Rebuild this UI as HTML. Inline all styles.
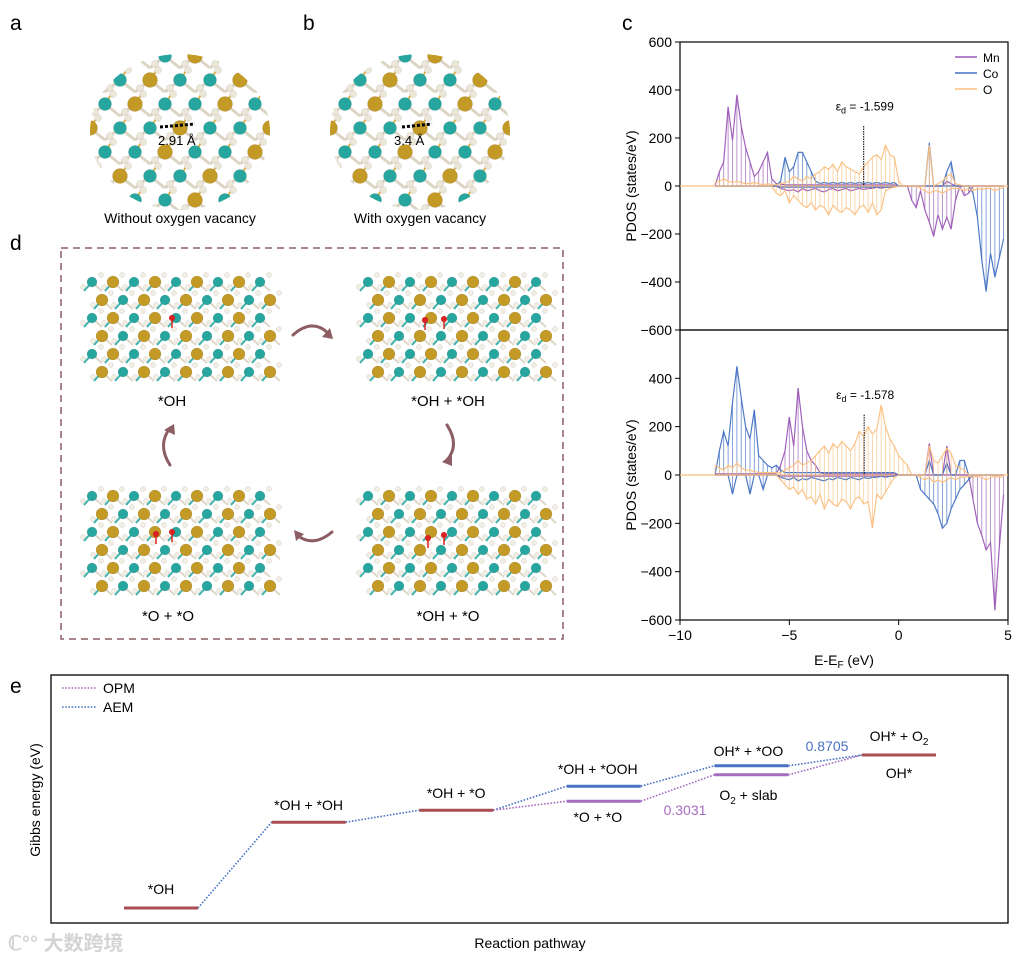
<!DOCTYPE html>
<html><head><meta charset="utf-8">
<style>
html,body{margin:0;padding:0;background:#fff;}
svg{display:block;font-family:"Liberation Sans","Noto Sans CJK SC",sans-serif;}
</style></head>
<body>
<svg id="fig" width="1023" height="963" viewBox="0 0 1023 963">
<defs>
<clipPath id="clipA"><ellipse cx="180" cy="132" rx="90" ry="78"/></clipPath>
<clipPath id="clipB"><ellipse cx="420" cy="132" rx="90" ry="78"/></clipPath>
</defs>
<text x="10" y="30" font-size="21">a</text>
<text x="303" y="30" font-size="21">b</text>
<text x="622" y="30" font-size="21">c</text>
<text x="10" y="250" font-size="21">d</text>
<text x="10" y="693" font-size="21">e</text>

<g id="structA" clip-path="url(#clipA)"></g>
<g id="structB" clip-path="url(#clipB)"></g>
<line x1="160" y1="127" x2="195" y2="124" stroke="#000" stroke-width="3" stroke-dasharray="3,2"/>
<text x="158" y="145" font-size="13">2.91 Å</text>
<line x1="402" y1="127" x2="432" y2="124" stroke="#000" stroke-width="3" stroke-dasharray="3,2"/>
<text x="394" y="145" font-size="13">3.4 Å</text>
<text x="180" y="223" font-size="14" text-anchor="middle">Without oxygen vacancy</text>
<text x="420" y="223" font-size="14" text-anchor="middle">With oxygen vacancy</text>

<rect x="61" y="248" width="502" height="391" fill="none" stroke="#8c5e64" stroke-width="1.5" stroke-dasharray="7,5"/>
<g id="slabs"></g>
<text x="172" y="406" font-size="15" text-anchor="middle">*OH</text>
<text x="448" y="406" font-size="15" text-anchor="middle">*OH + *OH</text>
<text x="168" y="621" font-size="15" text-anchor="middle">*O + *O</text>
<text x="448" y="621" font-size="15" text-anchor="middle">*OH + *O</text>
<g fill="none" stroke="#8c5e64" stroke-width="3" stroke-linecap="round">
<path d="M293,335 Q312,318 328,333"/>
<path d="M447,425 Q460,445 447,460"/>
<path d="M332,532 Q313,548 297,535"/>
<path d="M170,465 Q157,445 170,428"/>
</g>
<g fill="#8c5e64">
<polygon points="330,328 322,337 333,339"/>
<polygon points="442,462 452,454 452,466"/>
<polygon points="294,530 296,541 304,534"/>
<polygon points="174,424 164,430 175,435"/>
</g>

<g id="pdos"></g>
<g id="gibbs"></g>

<text x="8" y="950" font-size="20" fill="#d4d4d4" font-weight="bold">ℂ°° 大数跨境</text>
</svg>
<script>
const pdosEStart = -8.4;
const pdosEStep = 0.2;
const topMnUp = [0,60,100,330,190,380,250,160,100,40,60,100,140,30,10,8,5,5,5,5,5,5,5,5,5,5,5,5,5,5,5,5,5,5,5,5,5,5,5,5,5,5,0,0,0,0,0,0,0,0,0,0,0,20,10,0,0,0,0,0,0,0,0,0,0,0,0];
const topMnDown = [0,0,0,0,0,0,0,0,0,0,0,0,0,0,0,-10,-15,-20,-15,-25,-10,-20,-15,-10,-20,-25,-15,-10,-20,-15,-10,-20,-15,-10,-15,-10,-10,-5,-10,-5,-5,-5,0,0,0,-60,-90,-20,-100,-150,-210,-120,-180,-130,-180,-60,0,-40,-30,0,0,0,0,0,0,0,0];
const topCoUp = [0,0,0,0,0,0,0,0,0,0,0,0,0,0,0,20,120,60,80,140,140,100,60,20,10,15,10,15,10,15,10,15,10,15,10,15,10,15,10,15,10,15,0,0,0,0,0,0,0,180,0,0,0,60,100,0,0,0,0,0,0,0,0,0,0,0,0];
const topCoDown = [0,0,0,0,0,0,0,0,0,0,0,0,0,0,0,-5,-5,-5,-5,-5,-5,-5,-5,-5,-5,-5,-5,-5,-5,-5,-5,-5,-5,-5,-5,-5,-5,-5,-5,-5,-5,-5,0,0,0,0,0,0,0,0,0,0,0,0,0,0,0,0,0,-30,-130,-310,-440,-280,-380,-300,-220];
const topOUp = [15,20,30,20,15,20,15,10,10,15,10,5,10,5,5,10,15,20,40,30,20,40,30,50,60,80,70,90,60,100,80,70,60,50,80,100,120,130,110,170,130,120,20,0,0,0,0,0,0,170,0,10,20,40,50,10,5,0,0,0,0,0,0,0,0,0,0];
const topODown = [0,0,0,0,0,0,0,0,0,0,0,0,0,0,-30,-40,-20,-70,-40,-60,-80,-90,-70,-100,-80,-90,-120,-80,-100,-110,-90,-100,-120,-90,-80,-110,-70,-120,-100,-20,-10,-5,0,0,0,0,0,-10,-20,-30,-20,-20,-30,-20,-10,-10,-10,-20,-10,-20,-10,-15,-10,-10,-20,-10,-10];
const botCoUp = [0,100,180,120,300,450,320,200,150,270,80,60,40,30,40,20,10,10,10,10,10,10,10,10,10,10,10,10,10,10,10,10,10,10,10,10,10,10,10,10,10,10,0,0,0,0,0,0,0,60,0,0,0,50,0,0,60,60,0,0,0,0,0,0,0,0,0];
const botCoDown = [0,0,0,0,-80,0,0,0,-80,0,0,-60,0,0,0,-10,-15,-20,-10,-25,-15,-20,-10,-15,-20,-25,-15,-20,-10,-15,-20,-10,-15,-20,-10,-15,-10,-10,-5,-10,-5,-5,0,0,0,0,0,-60,-80,-100,-120,-160,-220,-200,-140,-100,-60,-40,-20,0,0,0,0,0,0,0,0];
const botMnUp = [5,5,5,5,5,5,5,5,5,5,5,5,5,5,5,40,100,240,120,360,200,100,60,40,10,5,5,5,5,5,5,5,5,5,5,5,5,5,5,5,5,5,0,0,0,0,0,0,0,130,0,0,0,120,0,0,0,0,0,0,0,0,0,0,0,0,0];
const botMnDown = [0,0,0,0,0,0,0,0,0,0,0,0,0,0,0,-5,-5,-5,-5,-5,-5,-5,-5,-5,-5,-5,-5,-5,-5,-5,-5,-5,-5,-5,-5,-5,-5,-5,-5,-5,-5,-5,0,0,0,0,0,0,0,0,0,0,0,0,0,0,0,0,0,-100,-200,-250,-310,-280,-560,-300,-80];
const botOUp = [40,30,20,40,30,50,30,20,20,15,10,10,10,10,10,10,20,30,40,60,40,50,60,80,100,120,90,130,110,140,120,100,130,180,160,200,170,190,290,200,150,120,80,60,40,0,0,0,0,120,60,50,80,110,90,40,30,20,0,0,0,0,0,0,0,0,0];
const botODown = [0,0,0,0,0,0,0,0,0,0,0,0,0,0,0,-20,-40,-60,-50,-80,-60,-100,-90,-120,-80,-140,-100,-120,-130,-100,-110,-140,-100,-90,-120,-110,-220,-80,-100,-70,-40,-10,0,0,0,0,0,-10,-20,-10,-30,-20,-30,-20,-10,-20,-10,-10,-5,-10,-5,-10,-20,-10,-5,-10,-5];
const yTicks = [600,400,200,0,-200,-400,-600];
const xTicks = [-10,-5,0,5];
const dCenters = [-1.599,-1.578];
const legendNames = ["Mn","Co","O"];

const stepLabels = ["*OH","*OH + *OH","*OH + *O","*OH + *OOH","OH* + *OO","OH* + O2"];
const commonEnergy = [0,1.43,1.63,null,null,2.55];
const aemEnergy = [null,null,1.63,2.03,2.37,2.55];
const opmEnergy = [null,null,1.63,1.78,2.22,2.55];
const annotValues = ["0.3031","0.8705"];

const NS="http://www.w3.org/2000/svg";
function mk(tag,attrs,parent){const e=document.createElementNS(NS,tag);for(const k in attrs)e.setAttribute(k,attrs[k]);parent.appendChild(e);return e;}

function atom(parent,x,y,r,fill){
  const c=mk('circle',{cx:x,cy:y,r:r,fill:fill,stroke:'rgba(0,0,0,0.15)','stroke-width':0.5},parent);
  
  
}
function bond(parent,x1,y1,x2,y2,col,w){
  const l=mk('line',{x1:x1,y1:y1,x2:x2,y2:y2,stroke:col,'stroke-width':w},parent);
  
  
}
function crystal(g,cx,cy){
  for(let r=-3;r<=3;r++)for(let c=-4;c<=4;c++){
    const x=cx+c*30+(r%2?15:0), y=cy+r*24;
    bond(g,x,y,x+15,y+12,'#ddd5c4',3);bond(g,x,y,x-15,y+12,'#ddd5c4',3);
    bond(g,x,y,x+8,y-12,'#d8b04a',2);
    atom(g,x+8,y-10,3.5,'#ece6d8');atom(g,x-10,y+8,3.5,'#ece6d8');
    const gold=((r+c)%3===0);
    atom(g,x,y,gold?7.5:6.5,gold?'#c49a26':'#27a6a0');
  }
}
crystal(document.getElementById('structA'),180,128);
crystal(document.getElementById('structB'),420,128);

const slabs=document.getElementById('slabs');
function slab(x0,y0,reds){
  const g=mk('g',{},slabs);
  
  
  for(let r=0;r<6;r++)for(let c=0;c<9;c++){
    const x=x0+c*21+(r%2?10:0), y=y0+r*18;
    bond(g,x,y,x+10,y+9,'#ded7c8',2);bond(g,x,y,x-8,y+9,'#3cb3ad',2);
    atom(g,x+9,y-7,2.5,'#f2eee4');atom(g,x-9,y+5,2.5,'#f2eee4');
    const gold=((r+c)%2===1);
    atom(g,x,y,gold?6:5,gold?'#c49a26':'#27a6a0');
  }
  reds.forEach(p=>{bond(g,p[0],p[1],p[0],p[1]+10,'#d22',1.5);atom(g,p[0],p[1],3,'#d22');});
}
slab(92,282,[[172,318]]);
slab(368,282,[[425,320],[444,319]]);
slab(92,496,[[156,534],[172,532]]);
slab(368,496,[[428,538],[444,535]]);

const pd=document.getElementById('pdos');
const X0=680,X1=1008;
function xs(e){return X0+(e+10)*(X1-X0)/15;}
const panels=[
 {top:42,bot:330,series:[[topMnUp,topMnDown,'#9b59b6'],[topCoUp,topCoDown,'#4472c4'],[topOUp,topODown,'#fbbf80']],d:dCenters[0]},
 {top:330,bot:620,series:[[botMnUp,botMnDown,'#9b59b6'],[botCoUp,botCoDown,'#4472c4'],[botOUp,botODown,'#fbbf80']],d:dCenters[1]}
];
panels.forEach((p,pi)=>{
  const ys=v=>p.top+(600-v)*(p.bot-p.top)/1200;
  const frame=mk('rect',{x:X0,y:p.top,width:X1-X0,height:p.bot-p.top,fill:'none',stroke:'#000','stroke-width':1.2},pd);
  
  
  yTicks.forEach(t=>{
    if(pi===1&&t===600)return;
    const tl=mk('line',{x1:X0-5,x2:X0,y1:ys(t),y2:ys(t),stroke:'#000'},pd);
    
    
    const tx=mk('text',{x:X0-8,y:ys(t)+5,'font-size':14,'text-anchor':'end'},pd);
    tx.textContent=(t<0?'\u2212'+(-t):t);
    
    
  });
  const yl=mk('text',{x:0,y:0,'font-size':14,'text-anchor':'middle',transform:`translate(636,${(p.top+p.bot)/2}) rotate(-90)`},pd);
  yl.textContent='PDOS (states/eV)';
  
  
  const z=ys(0);
  const zl=mk('line',{x1:X0,x2:X1,y1:z,y2:z,stroke:'#fbbf80','stroke-width':1.2},pd);
  
  
  p.series.forEach((s,si)=>{
    [s[0],s[1]].forEach((arr,k)=>{
      let stems='', line='';
      arr.forEach((v,i)=>{
        const e=pdosEStart+i*pdosEStep;
        const X=xs(e).toFixed(1), Y=ys(v).toFixed(1);
        stems+=`M${X},${z}L${X},${Y}`;
        line+=(i?'L':'M')+X+','+Y;
      });
      const st=mk('path',{d:stems,fill:'none',stroke:s[2],'stroke-width':0.8,opacity:0.8},pd);
      
      
      const path=mk('path',{d:line,fill:'none',stroke:s[2],'stroke-width':1.2,opacity:0.95},pd);
      
      
    });
  });
  const dl=mk('line',{x1:xs(p.d),x2:xs(p.d),y1:ys(250),y2:z,stroke:'#000','stroke-width':1,'stroke-dasharray':'1.5,1'},pd);
  
  
  const dt=mk('text',{x:xs(p.d)-28,y:ys(315),'font-size':12},pd);
  dt.innerHTML='ε<tspan font-size="9" dy="3">d</tspan><tspan dy="-3"> = '+p.d.toFixed(3)+'</tspan>';
  
  
  if(pi===1){
    xTicks.forEach(t=>{
      const tl=mk('line',{x1:xs(t),x2:xs(t),y1:p.bot,y2:p.bot+5,stroke:'#000'},pd);
      
      
      const tx=mk('text',{x:xs(t),y:p.bot+20,'font-size':14,'text-anchor':'middle'},pd);
      tx.textContent=(t<0?'\u2212'+(-t):t);
      
      
    });
    const xt=mk('text',{x:(X0+X1)/2,y:665,'font-size':14,'text-anchor':'middle'},pd);
    xt.innerHTML='E-E<tspan font-size="10" dy="3">F</tspan><tspan dy="-3"> (eV)</tspan>';
    
    
  } else {
    legendNames.forEach((n,i)=>{
      const col=p.series[i][2];
      const ll=mk('line',{x1:955,x2:977,y1:57+i*16,y2:57+i*16,stroke:col,'stroke-width':1.5},pd);
      
      
      const lt=mk('text',{x:983,y:62+i*16,'font-size':12},pd);
      lt.textContent=n;
      
      
    });
  }
});

const gb=document.getElementById('gibbs');
const BX0=51,BY0=675,BX1=1008,BY1=923;
const fr=mk('rect',{x:BX0,y:BY0,width:BX1-BX0,height:BY1-BY0,fill:'none',stroke:'#000','stroke-width':1.3},gb);


function gx(i){return 161+i*147.6;}
function gy(E){return 908-E*60;}
const HW=37;
const COMMON='#a84e52',AEM='#4a72c4',OPM='#a66cc0';
function level(i,E,col,name){
  const l=mk('line',{x1:gx(i)-HW,x2:gx(i)+HW,y1:gy(E),y2:gy(E),stroke:col,'stroke-width':3},gb);
  
  
}
function conn(i,E1,E2,col,name){
  const l=mk('line',{x1:gx(i)+HW,x2:gx(i+1)-HW,y1:gy(E1),y2:gy(E2),stroke:col,'stroke-width':1.6,'stroke-dasharray':'1.6,1.6'},gb);
  
  
}
for(let i=0;i<stepLabels.length-1;i++){
  const a1=aemEnergy[i]!=null?aemEnergy[i]:commonEnergy[i];
  const a2=aemEnergy[i+1]!=null?aemEnergy[i+1]:commonEnergy[i+1];
  conn(i,a1,a2,AEM,'aem-connector');
  if(i>=2){conn(i,opmEnergy[i],opmEnergy[i+1],OPM,'opm-connector');}
}
commonEnergy.forEach((E,i)=>{ if(E!=null) level(i,E,COMMON,'level-common'); });
[3,4].forEach(i=>{ level(i,aemEnergy[i],AEM,'level-aem'); level(i,opmEnergy[i],OPM,'level-opm'); });
function label(x,y,html,col,name){
  const t=mk('text',{x:x,y:y,'font-size':14,'text-anchor':'middle',fill:col||'#000'},gb);
  t.innerHTML=html;
  
  
}
label(gx(0),gy(commonEnergy[0])-14,stepLabels[0],null,'step-label');
label(gx(1),gy(commonEnergy[1])-12,stepLabels[1],null,'step-label');
label(gx(2),gy(commonEnergy[2])-12,stepLabels[2],null,'step-label');
label(gx(3)-6,gy(aemEnergy[3])-12,stepLabels[3],null,'step-label');
label(gx(3)-6,gy(opmEnergy[3])+21,'*O + *O',null,'step-label');
label(gx(4)-3,gy(aemEnergy[4])-10,stepLabels[4],null,'step-label');
label(gx(4)-3,gy(opmEnergy[4])+25,'O<tspan font-size="10" dy="4">2</tspan><tspan dy="-4"> + slab</tspan>',null,'step-label');
label(gx(5),gy(commonEnergy[5])-14,'OH* + O<tspan font-size="10" dy="4">2</tspan>',null,'step-label');
label(gx(5),gy(commonEnergy[5])+23,'OH*',null,'step-label');
label(685,gy(opmEnergy[3])+14,annotValues[0],OPM,'opm-limiting-value');
label(827,gy(aemEnergy[4])-15,annotValues[1],AEM,'aem-limiting-value');
[['OPM',OPM],['AEM',AEM]].forEach((L,i)=>{
  const ll=mk('line',{x1:62,x2:97,y1:688+i*19,y2:688+i*19,stroke:L[1],'stroke-width':1.6,'stroke-dasharray':'1.6,1.6'},gb);
  
  
  const lt=mk('text',{x:103,y:693+i*19,'font-size':14},gb);
  lt.textContent=L[0];
  
  
});
const ya=mk('text',{x:0,y:0,'font-size':14,'text-anchor':'middle',transform:'translate(40,800) rotate(-90)'},gb);
ya.textContent='Gibbs energy (eV)';


const xa=mk('text',{x:530,y:948,'font-size':14,'text-anchor':'middle'},gb);
xa.textContent='Reaction pathway';


</script>
</body></html>
